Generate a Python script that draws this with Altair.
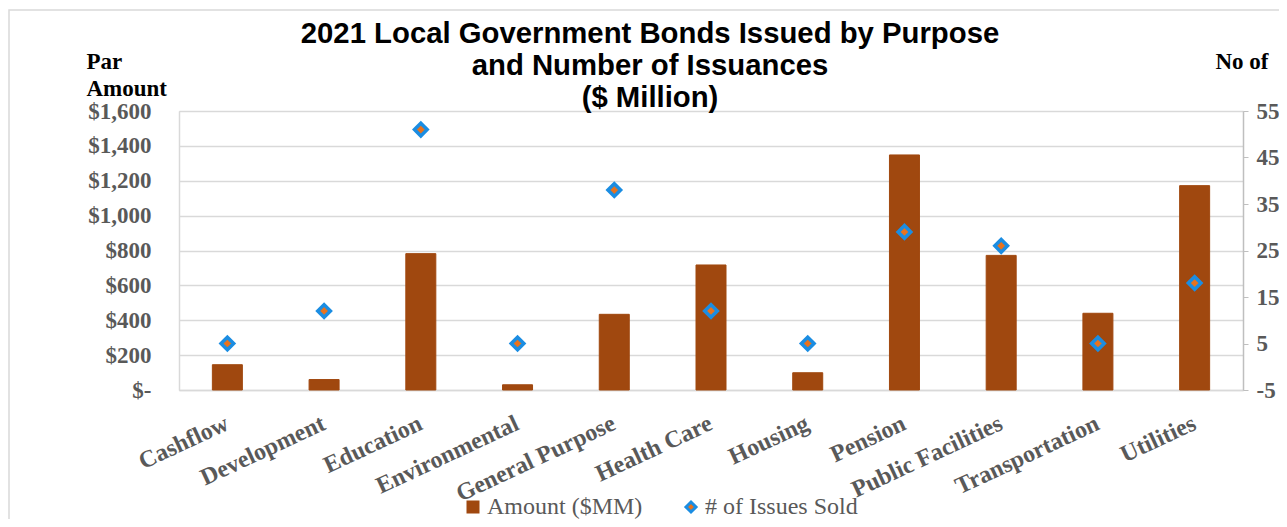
import altair as alt
import pandas as pd

categories = ["Cashflow", "Development", "Education", "Environmental", "General Purpose",
              "Health Care", "Housing", "Pension", "Public Facilities", "Transportation", "Utilities"]
amounts = [145, 60, 782, 30, 434, 717, 99, 1348, 772, 440, 1172]
issues = [5, 12, 51, 5, 38, 12, 5, 29, 26, 5, 18]
series_names = ["Amount ($MM)", "# of Issues Sold"]
title_lines = ["2021 Local Government Bonds Issued by Purpose", "and Number of Issuances", "($ Million)"]

bar_df = pd.DataFrame({"cat": categories, "val": amounts, "series": series_names[0]})
pt_df = pd.DataFrame({"cat": categories, "val": issues, "series": series_names[1]})

BROWN = "#A0480F"
ORANGE = "#E8731E"
BLUE = "#1B8DE2"
GRID = "#D9D9D9"
LABEL = "#595959"
SERIF = "Liberation Serif"

fill_scale = alt.Scale(domain=series_names, range=[BROWN, ORANGE])
stroke_scale = alt.Scale(domain=series_names, range=[BROWN, BLUE])
shape_scale = alt.Scale(domain=series_names, range=["square", "diamond"])

legend = alt.Legend(
    title=None, orient="none", direction="horizontal", legendX=282, legendY=384,
    labelFont=SERIF, labelFontSize=24, labelColor=LABEL, labelFontWeight="normal",
    symbolSize=100, symbolStrokeWidth=3, labelOffset=2, columnPadding=36,
)

x_enc = alt.X("cat:N", sort=categories, title=None,
              scale=alt.Scale(paddingInner=0, paddingOuter=0),
              axis=alt.Axis(labelAngle=-25, labelAlign="right", labelBaseline="middle",
                            labelFont=SERIF, labelFontSize=24, labelFontWeight="bold",
                            labelColor=LABEL, labelPadding=32, ticks=False,
                            domainColor=GRID, domainWidth=1.5, labelOverlap=False))

bars = alt.Chart(bar_df).mark_bar(size=30, strokeWidth=1).encode(
    x=x_enc,
    y=alt.Y("val:Q", scale=alt.Scale(domain=[0, 1600], nice=False),
            axis=alt.Axis(orient="left", values=list(range(0, 1601, 200)),
                          labelExpr="datum.value == 0 ? '$-' : '$' + format(datum.value, ',')",
                          labelFont=SERIF, labelFontSize=23, labelFontWeight="bold",
                          labelColor=LABEL, labelPadding=28, ticks=False,
                          domain=True, domainColor=GRID, domainWidth=1.5,
                          grid=True, gridColor=GRID, gridWidth=1.5,
                          title=["Par", "Amount"], titleAngle=0, titleAlign="left",
                          titleBaseline="alphabetic", titleX=-93, titleY=-43,
                          titleLineHeight=27, titleFont=SERIF, titleFontSize=23,
                          titleFontWeight="bold", titleColor="black")),
    fill=alt.Fill("series:N", scale=fill_scale, legend=legend),
    stroke=alt.Stroke("series:N", scale=stroke_scale, legend=legend),
)

points = alt.Chart(pt_df).mark_point(filled=True, size=160, strokeWidth=3.5, opacity=1).encode(
    x=alt.X("cat:N", sort=categories),
    y=alt.Y("val:Q", scale=alt.Scale(domain=[-5, 55], nice=False),
            axis=alt.Axis(orient="right", values=[-5, 5, 15, 25, 35, 45, 55],
                          labelExpr="'' + datum.value",
                          labelFont=SERIF, labelFontSize=23, labelFontWeight="bold",
                          labelColor=LABEL, labelPadding=8, ticks=True, tickSize=5,
                          tickColor="#BFBFBF", domain=True, domainColor="#BFBFBF",
                          domainWidth=1.5, grid=False,
                          title="No of", titleAngle=0, titleAlign="left",
                          titleBaseline="alphabetic", titleX=-28, titleY=-43,
                          titleFont=SERIF, titleFontSize=23, titleFontWeight="bold",
                          titleColor="black")),
    fill=alt.Fill("series:N", scale=fill_scale, legend=legend),
    stroke=alt.Stroke("series:N", scale=stroke_scale, legend=legend),
    shape=alt.Shape("series:N", scale=shape_scale, legend=legend),
)

frame = alt.Chart(pd.DataFrame({"a": [0]})).mark_rect(
    fillOpacity=0, stroke=GRID, strokeWidth=1.5
).encode(x=alt.value(-170), x2=alt.value(1200), y=alt.value(-101), y2=alt.value(500))

title = alt.Chart(pd.DataFrame({"a": [0]})).mark_text(
    text=title_lines, font="Liberation Sans", fontSize=29.3, fontWeight="bold",
    color="black", align="center", baseline="alphabetic", lineHeight=32
).encode(x=alt.value(471), y=alt.value(-68))

chart = alt.layer(frame, bars, points, title).resolve_scale(y="independent").properties(
    width=1064, height=279,
    autosize=alt.AutoSizeParams(type="none"),
    padding={"left": 171, "top": 103, "right": 36, "bottom": 129},
).configure_view(stroke=None).configure(background="white")

chart.save("out.html", embed_options={"renderer": "svg", "actions": False})
